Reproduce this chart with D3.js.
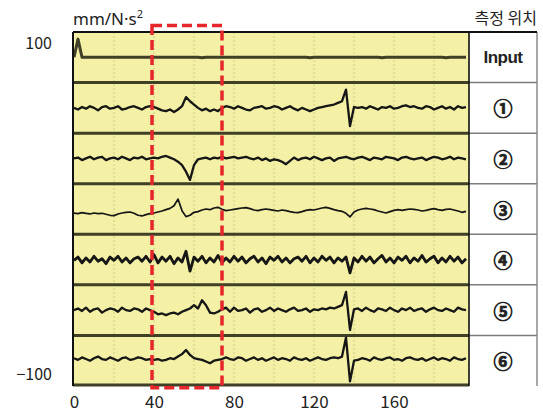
<!DOCTYPE html>
<html>
<head>
<meta charset="utf-8">
<script src="https://cdn.jsdelivr.net/npm/d3@7"></script>
<style>
body { margin: 0; background: #fff; }
svg text { font-family: "Noto Sans CJK KR", "Noto Sans", sans-serif; fill: #222; }
</style>
</head>
<body>
<div id="chart"></div>
<script>
// measurement positions (rows), top to bottom
var positions = ['Input', '①', '②', '③', '④', '⑤', '⑥'];

// sample times
var time = [0, 2, 4, 6, 8, 10, 12, 14, 16, 18, 20, 22, 24, 26, 28, 30, 32, 34, 36, 38,
    40, 42, 44, 46, 48, 50, 52, 54, 56, 58, 60, 62, 64, 66, 68, 70, 72, 74, 76, 78,
    80, 82, 84, 86, 88, 90, 92, 94, 96, 98, 100, 102, 104, 106, 108, 110, 112, 114, 116, 118,
    120, 122, 124, 126, 128, 130, 132, 134, 136, 138, 140, 142, 144, 146, 148, 150, 152, 154, 156, 158,
    160, 162, 164, 166, 168, 170, 172, 174, 176, 178, 180, 182, 184, 186, 188, 190, 192, 194, 196];

// acceleration per position (mm/N·s², around each row's zero)
var input = [0, 11, 0, 0, 0, 0, 0, 0, 0, 0,
    0, 0, 0, 0, 0, 0, 0, 0, 0, 0,
    0, 0, 0, 0, 0, 0, 0, 0, 0, 0,
    0, 0, -0.3, 0, 0, 0, 0, 0, 0, 0,
    0, 0, 0, 0, 0, 0, 0, 0, 0, 0,
    0, 0, 0, 0, 0, 0, 0, 0, 0, -0.3,
    0, 0, 0, 0, 0, 0, 0, 0, 0, 0,
    0, 0, 0, 0, 0, 0, 0, -0.3, 0, 0,
    0, 0, 0, 0, 0, 0, 0, 0, 0, 0,
    0, 0, 0, -0.3, 0, 0, 0, 0, 0];
var pos1 = [0, -1, 0.5, -0.5, 1, 0, -1.5, 0.5, 1, -0.5,
    0, 1, -1, -0.5, 0.5, 1, 0, -1, 0.5, 1,
    0.5, -0.5, -1.5, -2, -1, -2.5, -1, 1, 6.5, 4,
    2, 0, -1.5, -0.5, -2, -1, -2, 0, 1, 0.5,
    -0.5, 1, 0, -1, -1.5, 0, 0.5, 1, -0.5, 0,
    1, 0.5, -1, 0, 1, -0.5, -1.5, 0, -1, -2,
    -1, 0, 0.5, 1, 1.5, 2, 3, 4, 11, -11,
    0.5, 0, 0.5, -0.5, 1, 0, -1, 0.5, 0, 1,
    -0.5, 0, 1, 1.5, 0.5, 1, 0, -0.5, 1, 0.5,
    -1, 0, 1, -0.5, 0.5, -1, 1, 0, 0.5];
var pos2 = [0, 0.5, -1, 0, 1, -0.5, 0.5, 1, -1, 0,
    0.5, -0.5, 1, 0, -1, 0.5, 0, 1, -0.5, 0,
    0.5, 0, 1, 1.5, 0.5, -0.5, -2, -4, -8, -13,
    -4, -0.5, 0, 0.5, -0.5, 0.5, 0, 1, 0, 0.5,
    1, 0, 0.5, 1, 0, -0.5, 0.5, -1, 0, -1.5,
    -0.5, -1, -2, -3.5, -1.5, 0.5, -1, 0, 0.5, -0.5,
    1, 0, -1, 0, 0.5, -1.5, 0, 0.5, 1, 0,
    -0.5, 0.5, 1, 0, -1, 0.5, 0, -0.5, 1, 0.5,
    0, -1, 0.5, 1, 0, -0.5, 0, 0.5, -1, 0,
    1, 0.5, -0.5, 0, 1, -0.5, 0.5, 0, -0.5];
var pos3 = [-2.5, -2.8, -2.2, -2.6, -3, -2.4, -2.8, -2.6, -3.2, -3.8,
    -4, -3, -2.4, -2, -1.8, -2.6, -3.8, -4.2, -3.4, -2.8,
    -2.4, -1.8, -1.2, -0.4, 0.4, 2, 6, -1, -4.6, -3.8,
    -2, -1.6, -0.6, 0, -0.4, 0.6, 1, -0.2, -1, -0.6,
    -0.2, 0.2, 0.6, 0.8, 0.2, -0.6, -1, -0.4, 0, -0.4,
    -0.8, -1.2, -0.6, -1, -1.6, -2, -2.2, -1.6, -0.8, -0.4,
    -0.6, 0, 0.6, 1, 0.4, -0.4, -1, -1.4, -2.6, -4.8,
    -1.8, -0.6, 0, 0.4, 0, -0.4, -1.2, -1.8, -2.4, -1.6,
    -0.8, -0.4, -0.8, -0.4, 0, -0.2, -0.6, -1.2, -0.8, -0.2,
    0.2, -0.4, -0.8, -0.2, 0, -0.6, -1.2, -2, -1.4];
var pos4 = [-0.5, 1.5, -2, 1, -1.5, 2, -1, 0.5, -2.5, 1.5,
    -0.5, 2, -1.5, 1, -2, 0.5, 1.5, -1, 2, -1.5,
    3, -2, 1.5, -1, 2, -2.5, 1, -1.5, 5, -7,
    1.5, -1, 2, -2, 1, -1.5, 2.5, -2, 1, -1.5,
    2, -1, 1.5, -2, 0.5, 2, -1.5, 1, -2.5, 1.5,
    -0.5, 2, -1.5, 1, -2, 0.5, 1.5, -1, 2, -2,
    1, -1.5, 2, -0.5, 1.5, -2, 1, -1, 1.5, -8,
    1, -1.5, 2, -1, 1.5, -2, 0.5, 2.5, -1.5, 1,
    -2, 1.5, -0.5, 2, -2, 1, -1, 2.5, -1.5, 0.5,
    2, -2, 1, -1.5, 2, -1, 1.5, -2, 0.5];
var pos5 = [0, 1, -0.5, 1.5, -1, 0.5, 1, -1.5, 0, 1,
    0.5, -1, 1.5, 0, -0.5, 1, 0.5, -1, 1, 0,
    -1, -2.5, -2, -3, -2, -1.5, -2.5, -1, 0, 1,
    3, 1, 6, 3, -1.5, -2, -1, 0.5, 1.5, -1,
    1.5, -0.5, 0, 1, -1.5, 0.5, 1, -1, 0, 1.5,
    -0.5, 1, 0, -1, 0.5, 1.5, -0.5, 0, 1, -1,
    0.5, 0, 1, 0.5, 1.5, 1, 2, 3, 11, -12,
    0.5, 1, -0.5, 1.5, 0, -1, 1, 0.5, -0.5, 1.5,
    0, -1, 1, 0, 1.5, -0.5, 0.5, 1, -1, 0.5,
    1.5, 0, -0.5, 1, 0, -1, 1.5, 0.5, 0];
var pos6 = [1.5, 0.5, 2, 1, 0, 1.5, 2.5, 1, 0.5, 2,
    1, 0, 1.5, 2, 0.5, 1, 2, 1.5, 0.5, 1,
    0.5, 1, 0, 0.5, 1.5, 1, 2.5, 4, 6.5, 3.5,
    1.5, 1, 0.5, -0.5, -1.5, 0, 0.5, 1, 2, 1,
    0.5, 2, 1.5, 0, 1, 2, 0.5, 1.5, 0, 1,
    2, 0.5, 1.5, 1, 0, 2, 1, 0.5, 1.5, 0,
    1, 2, 1, 0.5, 1.5, 2, 1.5, 2.5, 14, -12.5,
    0, 0.5, 1.5, 1, 0, 2, 1, 0.5, 1.5, 2,
    0.5, 1, 0, 1.5, 2, 1, 0.5, 1.5, 0, 1,
    2, 0.5, 1.5, 1, 0, 2, 1, 0.5, 1.5];
var traces = [input, pos1, pos2, pos3, pos4, pos5, pos6];

var xTicks = [0, 40, 80, 120, 160];
var yTicks = [100, -100];

// highlighted window (time) drawn as dashed box
var windowTime = [39, 74];
var windowLevel = [-108, 111];

var margin = { top: 32, right: 74, bottom: 27, left: 73 },
    width = 543 - margin.left - margin.right,
    height = 413 - margin.top - margin.bottom,
    tableWidth = 68;

var svg = d3.select('#chart')
    .append('svg')
    .attr('width', 543)
    .attr('height', 413)
    .append('g')
    .attr('transform', 'translate(' + margin.left + ',' + margin.top + ')');

var x = d3.scaleLinear().domain([-0.5, 197.5]).range([0, width]);
var y = d3.scaleLinear().domain([-107, 107]).range([height, 0]);
var row = d3.scaleBand().domain(positions).range([0, height]);
var local = d3.scaleLinear().domain([-15.3, 15.3]).range([row.bandwidth(), 0]);

var defs = svg.append('defs');
defs.append('clipPath')
    .attr('id', 'clip')
    .append('rect')
    .attr('width', width)
    .attr('height', height);

// soft blur, region in user space so flat lines keep showing
defs.append('filter')
    .attr('id', 'soft')
    .attr('filterUnits', 'userSpaceOnUse')
    .attr('x', -20).attr('y', -20)
    .attr('width', width + 40).attr('height', height + 40)
    .append('feGaussianBlur')
    .attr('stdDeviation', 0.5);

// plot background
svg.append('rect')
    .attr('width', width)
    .attr('height', height)
    .attr('fill', '#f4f1a6');

// faint vertical grid
svg.selectAll('.grid')
    .data(x.ticks(10).filter(function(d) { return d > 0; }))
    .enter()
    .append('line')
    .attr('class', 'grid')
    .attr('x1', function(d) { return x(d); })
    .attr('x2', function(d) { return x(d); })
    .attr('y1', 0)
    .attr('y2', height)
    .attr('stroke', '#cdcc84')
    .attr('stroke-width', 1)
    .attr('stroke-dasharray', '2,2');

// table cells
svg.append('rect')
    .attr('x', width)
    .attr('width', tableWidth)
    .attr('height', height)
    .attr('fill', '#fff');

svg.selectAll('.rowline')
    .data(positions.slice(1))
    .enter()
    .append('line')
    .attr('class', 'rowline')
    .attr('x1', width)
    .attr('x2', width + tableWidth)
    .attr('y1', function(d) { return row(d); })
    .attr('y2', function(d) { return row(d); })
    .attr('stroke', '#7c7c7c')
    .attr('stroke-width', 1.5);

svg.append('line')
    .attr('x1', width + tableWidth)
    .attr('x2', width + tableWidth)
    .attr('y1', 0)
    .attr('y2', height)
    .attr('stroke', '#8a8a8a')
    .attr('stroke-width', 1.5);

// strip separators
var sepY = positions.slice(1).map(function(d) { return row(d); }).concat([height - 1]);
svg.selectAll('.sep')
    .data(sepY)
    .enter()
    .append('line')
    .attr('class', 'sep')
    .attr('x1', 0)
    .attr('x2', width)
    .attr('y1', function(d) { return d; })
    .attr('y2', function(d) { return d; })
    .attr('stroke', '#3f3f28')
    .attr('stroke-width', 3)
    .attr('filter', 'url(#soft)');

// traces
var line = d3.line()
    .x(function(d, i) { return x(time[i]); })
    .y(function(d) { return local(d); });

var strips = svg.append('g')
    .attr('clip-path', 'url(#clip)')
    .selectAll('g.strip')
    .data(traces)
    .enter()
    .append('g')
    .attr('class', 'strip')
    .attr('transform', function(d, i) { return 'translate(0,' + row(positions[i]) + ')'; });

strips.append('path')
    .attr('d', line)
    .attr('fill', 'none')
    .attr('stroke', function(d, i) { return i === 0 ? '#3f3f28' : '#151515'; })
    .attr('stroke-width', function(d, i) { return i === 0 ? 3 : (i === 3 ? 1.7 : (i === 4 ? 2.8 : 2.3)); })
    .attr('stroke-linejoin', 'round')
    .attr('filter', 'url(#soft)');

// frame
svg.append('line').attr('x1', 0).attr('x2', width + tableWidth).attr('y1', 0).attr('y2', 0)
    .attr('stroke', '#111').attr('stroke-width', 2);
svg.append('line').attr('x1', 0).attr('x2', 0).attr('y1', 0).attr('y2', height)
    .attr('stroke', '#111').attr('stroke-width', 2);
svg.append('line').attr('x1', width).attr('x2', width).attr('y1', 0).attr('y2', height)
    .attr('stroke', '#111').attr('stroke-width', 1.6);

// table labels
svg.selectAll('.poslabel')
    .data(positions)
    .enter()
    .append('text')
    .attr('class', 'poslabel')
    .attr('x', width + tableWidth / 2)
    .attr('y', function(d) { return row(d) + row.bandwidth() / 2; })
    .attr('text-anchor', 'middle')
    .attr('dominant-baseline', 'central')
    .style('font-family', function(d) { return d === 'Input' ? 'Liberation Sans, sans-serif' : null; })
    .style('font-size', function(d) { return d === 'Input' ? '17px' : '19px'; })
    .style('font-weight', 'bold')
    .style('letter-spacing', function(d) { return d === 'Input' ? '-0.5px' : null; })
    .attr('stroke', function(d) { return d === 'Input' ? null : '#222'; })
    .attr('stroke-width', 0.7)
    .text(function(d) { return d; });

// highlighted window
svg.append('rect')
    .attr('x', x(windowTime[0]))
    .attr('y', y(windowLevel[1]))
    .attr('width', x(windowTime[1]) - x(windowTime[0]))
    .attr('height', y(windowLevel[0]) - y(windowLevel[1]))
    .attr('fill', 'none')
    .attr('stroke', '#e5262a')
    .attr('stroke-width', 3.5)
    .attr('stroke-dasharray', '10,5');

// axes
var xAxis = svg.append('g')
    .attr('transform', 'translate(0,' + height + ')')
    .call(d3.axisBottom(x).tickValues(xTicks).tickSize(0).tickPadding(10));
xAxis.select('.domain').remove();
xAxis.selectAll('text').style('font-size', '17px').style('font-family', null).attr('fill', '#222');

var yAxis = svg.append('g')
    .call(d3.axisLeft(y).tickValues(yTicks).tickSize(0).tickPadding(21));
yAxis.select('.domain').remove();
yAxis.selectAll('text').style('font-size', '16px').style('font-family', null).attr('fill', '#222');

// titles
var unit = svg.append('text')
    .attr('x', 0)
    .attr('y', -7)
    .style('font-family', '"Noto Sans", sans-serif')
    .style('font-size', '17px');
unit.append('tspan').text('mm/N·s');
unit.append('tspan').attr('baseline-shift', 'super').style('font-size', '11px').text('2');

svg.append('text')
    .attr('x', width + tableWidth)
    .attr('y', -8)
    .attr('text-anchor', 'end')
    .style('font-size', '16px')
    .text('측정 위치');
</script>
</body>
</html>
